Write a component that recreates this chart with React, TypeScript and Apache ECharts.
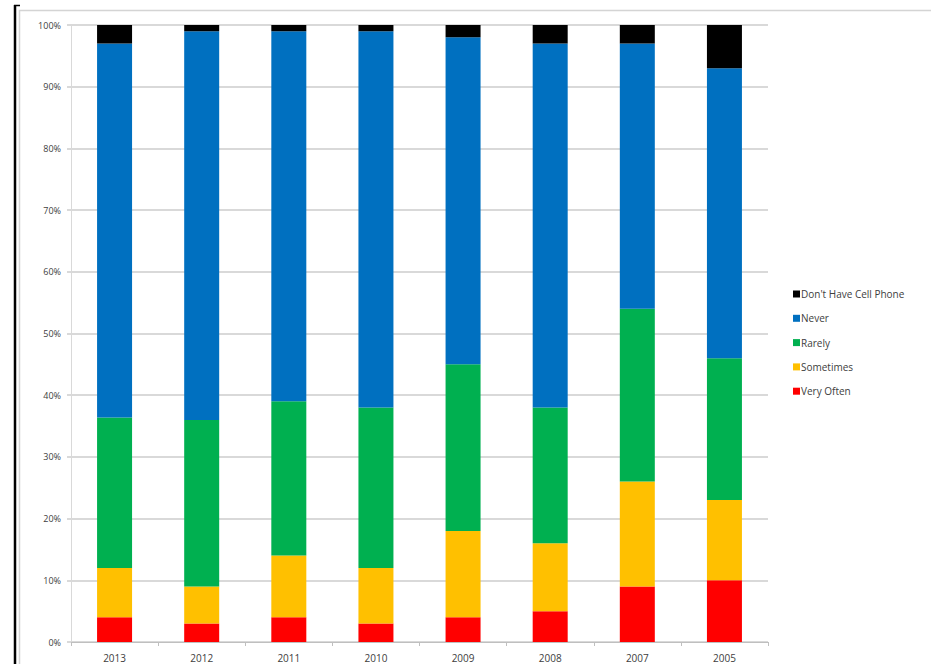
import React, { useEffect, useRef } from "react";
import * as echarts from "echarts";

const years = ["2013", "2012", "2011", "2010", "2009", "2008", "2007", "2005"];
const veryOften = [4, 3, 4, 3, 4, 5, 9, 10];
const sometimes = [8, 6, 10, 9, 14, 11, 17, 13];
const rarely = [24.4, 27, 25, 26, 27, 22, 28, 23];
const never = [60.6, 63, 60, 61, 53, 59, 43, 47];
const noPhone = [3, 1, 1, 1, 2, 3, 3, 7];
const yTicks = [0, 10, 20, 30, 40, 50, 60, 70, 80, 90, 100];

const seriesDefs = [
  { name: "Very Often", data: veryOften, color: "#FF0000" },
  { name: "Sometimes", data: sometimes, color: "#FFC000" },
  { name: "Rarely", data: rarely, color: "#00B050" },
  { name: "Never", data: never, color: "#0070C0" },
  { name: "Don't Have Cell Phone", data: noPhone, color: "#000000" },
];

export default function App() {
  const ref = useRef<HTMLDivElement>(null);
  useEffect(() => {
    if (!ref.current) return;
    const chart = echarts.init(ref.current, null, { renderer: "svg" });
    const font = "'Open Sans', 'Liberation Sans', sans-serif";
    chart.setOption({
      animation: false,
      backgroundColor: "#ffffff",
      textStyle: { fontFamily: font },
      graphic: [
        {
          type: "rect",
          shape: { x: 19.5, y: 10.5, width: 1000, height: 1000 },
          style: { fill: "none", stroke: "#D4D4D4", lineWidth: 1.5 },
          silent: true,
          z: -1,
        },
        {
          type: "line",
          shape: { x1: 15, y1: 5, x2: 15, y2: 664 },
          style: { stroke: "#000000", lineWidth: 2.5 },
          silent: true,
        },
        {
          type: "line",
          shape: { x1: 14, y1: 5.5, x2: 20, y2: 5.5 },
          style: { stroke: "#000000", lineWidth: 1.5 },
          silent: true,
        },
      ],
      grid: { left: 71, right: 163, top: 25, bottom: 22, containLabel: false },
      legend: {
        orient: "vertical",
        left: 788,
        top: 284,
        itemWidth: 7,
        itemHeight: 7,
        itemGap: 14.3,
        icon: "rect",
        data: [
          "Don't Have Cell Phone",
          "Never",
          "Rarely",
          "Sometimes",
          "Very Often",
        ],
        textStyle: { fontSize: 10, color: "#404040", fontFamily: font, padding: [0, 0, 0, -4] },
      },
      xAxis: {
        type: "category",
        data: years,
        axisLine: { lineStyle: { color: "#BFBFBF", width: 1 } },
        axisTick: { show: true, length: 4, lineStyle: { color: "#BFBFBF" } },
        axisLabel: { fontSize: 10, color: "#404040", margin: 11, fontFamily: font },
      },
      yAxis: {
        type: "value",
        min: yTicks[0],
        max: yTicks[yTicks.length - 1],
        interval: 10,
        axisLine: { show: true, lineStyle: { color: "#D9D9D9", width: 1 } },
        axisTick: { show: true, length: 4, lineStyle: { color: "#D9D9D9", width: 2 } },
        splitLine: { lineStyle: { color: "#D9D9D9", width: 2 } },
        axisLabel: {
          formatter: "{value}%",
          fontSize: 9,
          color: "#404040",
          margin: 10,
          fontFamily: font,
        },
      },
      series: seriesDefs.map((s) => ({
        name: s.name,
        type: "bar",
        stack: "total",
        barWidth: 35,
        data: s.data,
        itemStyle: { color: s.color },
      })),
    });
    return () => chart.dispose();
  }, []);
  return <div ref={ref} style={{ width: 931, height: 664, position: "absolute", left: 0, top: 0 }} />;
}
